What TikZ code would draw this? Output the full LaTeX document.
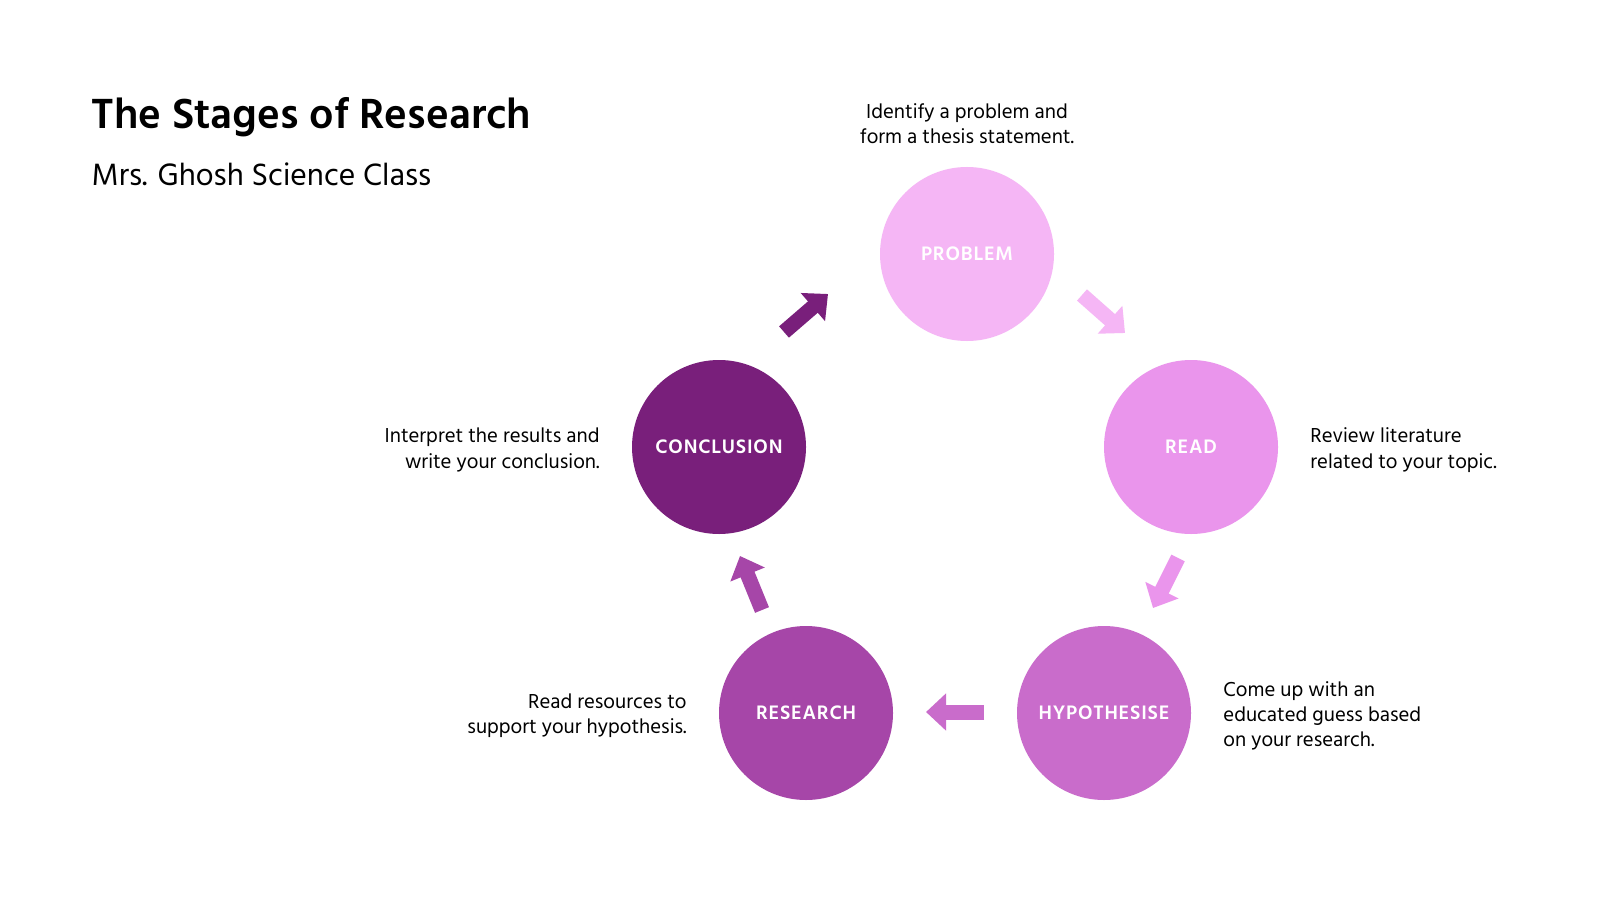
\documentclass[tikz,border=0pt]{standalone}
\usepackage{fontspec}
\setmainfont{Hind Madurai}
\usepackage{tikz}
\usetikzlibrary{arrows.meta,positioning}
\definecolor{stageone}{HTML}{F5B6F5}
\definecolor{stagetwo}{HTML}{EA95EC}
\definecolor{stagethree}{HTML}{C96CCB}
\definecolor{stagefour}{HTML}{A646A8}
\definecolor{stagefive}{HTML}{791F7B}
\tikzset{
  stage/.style={
    circle,
    draw=none,
    minimum size=1.74cm,
    inner sep=0pt,
    text=white,
    font=\fontsize{5.7}{6.5}\selectfont\bfseries\addfontfeature{LetterSpace=4}
  },
  blockarrow/.style={
    line width=0.15cm,
    -{Triangle[width=0.36cm, length=0.2cm]}
  },
  note/.style={
    inner sep=0pt,
    font=\fontsize{5.9}{7.2}\selectfont
  },
  sidenote/.style={note, yshift=-0.03cm}
}
\begin{document}
\begin{tikzpicture}[node distance=0.31cm]
  \useasboundingbox[fill=white] (0,0) rectangle (16,9);

  % title
  \node[anchor=base west, inner sep=0pt, font=\fontsize{12.3}{14}\selectfont\bfseries] (title) at (0.91,7.71) {The Stages of Research};
  \node[anchor=base west, inner sep=0pt, font=\fontsize{9}{10.5}\selectfont] (subtitle) at (0.91,7.15) {Mrs. Ghosh Science Class};

  % stages
  \node[stage, fill=stageone] (problem) at (9.67,6.46) {PROBLEM};
  \node[stage, fill=stagetwo] (read) at (11.91,4.53) {READ};
  \node[stage, fill=stagethree] (hypo) at (11.04,1.87) {HYPOTHESISE};
  \node[stage, fill=stagefour] (research) at (8.06,1.87) {RESEARCH};
  \node[stage, fill=stagefive] (concl) at (7.19,4.53) {CONCLUSION};

  % notes
  \node[note, align=center, above=0.22cm of problem] (problemtxt) {Identify a problem and\\form a thesis statement.};
  \node[sidenote, align=left, right=of read] (readtxt) {Review literature\\related to your topic.};
  \node[sidenote, align=left, right=of hypo] (hypotxt) {Come up with an\\educated guess based\\on your research.};
  \node[sidenote, align=right, left=of research] (researchtxt) {Read resources to\\support your hypothesis.};
  \node[sidenote, align=right, left=of concl] (concltxt) {Interpret the results and\\write your conclusion.};

  % arrows
  \coordinate (a1) at (7.84,5.68);
  \coordinate (b1) at (8.28,6.06);
  \coordinate (a2) at (10.82,6.05);
  \coordinate (b2) at (11.25,5.67);
  \coordinate (a3) at (11.78,3.42);
  \coordinate (b3) at (11.53,2.92);
  \coordinate (a4) at (9.84,1.88);
  \coordinate (b4) at (9.26,1.88);
  \coordinate (a5) at (7.62,2.90);
  \coordinate (b5) at (7.40,3.44);
  \draw[blockarrow, draw=stagefive] (a1) -- (b1);
  \draw[blockarrow, draw=stageone] (a2) -- (b2);
  \draw[blockarrow, draw=stagetwo] (a3) -- (b3);
  \draw[blockarrow, draw=stagethree] (a4) -- (b4);
  \draw[blockarrow, draw=stagefour] (a5) -- (b5);
\end{tikzpicture}
\end{document}
